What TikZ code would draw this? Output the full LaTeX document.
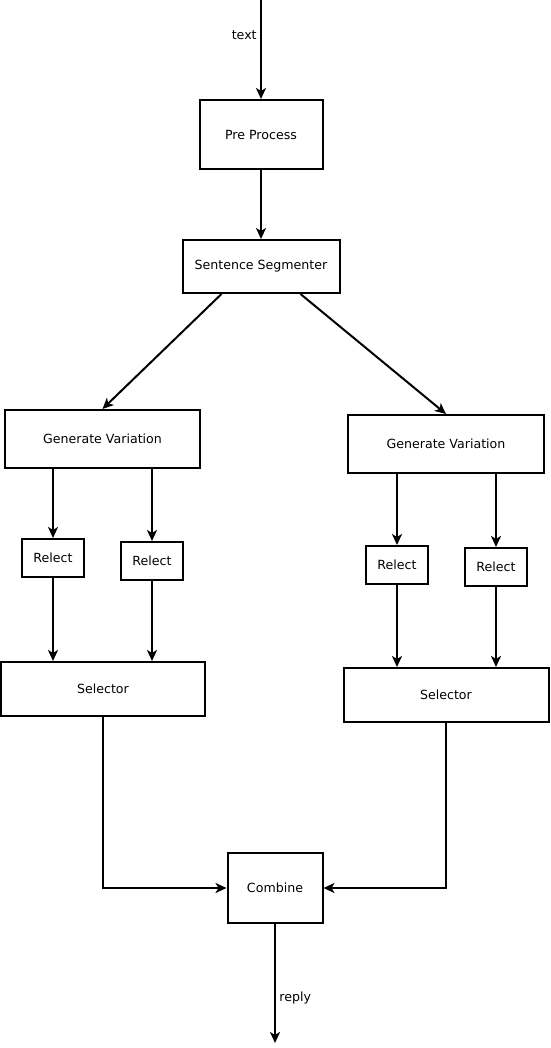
\documentclass[tikz,border=0pt]{standalone}
\usepackage{fontspec}
\setmainfont{DejaVu Sans}
\usepackage{tikz}
\usetikzlibrary{arrows.meta}

\begin{document}
\begin{tikzpicture}[
    x = 1pt, y = -1pt,
    box/.style = {rectangle, draw, line width=2pt, inner sep=0pt,
                  font=\fontsize{12.6}{15}\selectfont},
    relect/.style = {box, minimum width=62pt, minimum height=38pt},
    arrow/.style = {-{Stealth[length=11pt, width=10pt, inset=3pt]}, line width=2pt},
    lbl/.style = {font=\fontsize{12.6}{15}\selectfont}
  ]
    \useasboundingbox (0,0) rectangle (550,1048);

    \coordinate (in) at (261,0);
    \coordinate (out) at (275,1043);

    \node[box, minimum width=123pt, minimum height=69pt] (pre) at (261,134.5) {Pre Process};
    \node[box, minimum width=157pt, minimum height=53pt] (seg) at (261,266.5) {Sentence Segmenter};

    \node[box, minimum width=195pt, minimum height=58pt] (gvl) at (102.5,439) {Generate Variation};
    \node[box, minimum width=196pt, minimum height=58pt] (gvr) at (446,444) {Generate Variation};

    \node[relect] (rl1) at (53,558) {Relect};
    \node[relect] (rl2) at (152,561) {Relect};
    \node[relect] (rr1) at (397,565) {Relect};
    \node[relect] (rr2) at (496,567) {Relect};

    \node[box, minimum width=204pt, minimum height=54pt] (sell) at (103,689) {Selector};
    \node[box, minimum width=205pt, minimum height=54pt] (selr) at (446,695) {Selector};

    \node[box, minimum width=95pt, minimum height=70pt] (comb) at (275,888) {Combine};

    \draw[arrow] (in) -- node[lbl, left, pos=0.36] {text} (pre);
    \draw[arrow] (pre) -- (seg);
    \draw[arrow] ([xshift=-39.5pt]seg.south) -- (gvl.north);
    \draw[arrow] ([xshift=39.5pt]seg.south) -- (gvr.north);

    \draw[arrow] (gvl.south -| rl1) -- (rl1);
    \draw[arrow] (gvl.south -| rl2) -- (rl2);
    \draw[arrow] (gvr.south -| rr1) -- (rr1);
    \draw[arrow] (gvr.south -| rr2) -- (rr2);

    \draw[arrow] (rl1) -- (rl1 |- sell.north);
    \draw[arrow] (rl2) -- (rl2 |- sell.north);
    \draw[arrow] (rr1) -- (rr1 |- selr.north);
    \draw[arrow] (rr2) -- (rr2 |- selr.north);

    \draw[arrow] (sell) |- (comb);
    \draw[arrow] (selr) |- (comb);
    \draw[arrow] (comb) -- node[lbl, right, pos=0.62] {reply} (out);
  \end{tikzpicture}
\end{document}
